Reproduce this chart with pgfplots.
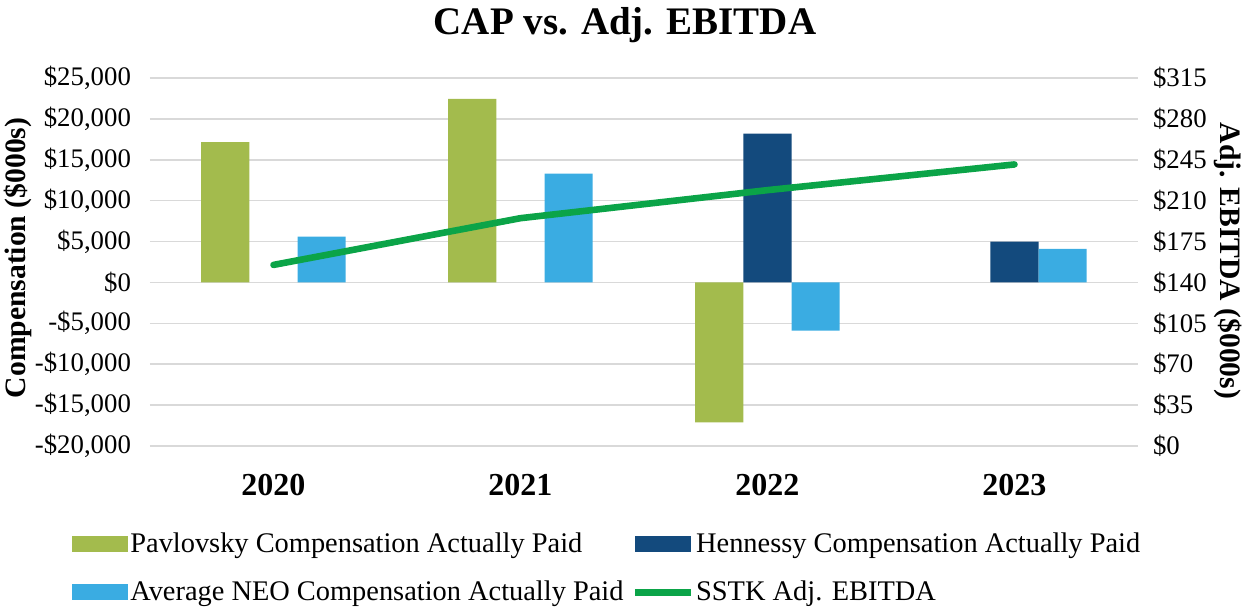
\documentclass[border=0pt]{standalone}
\usepackage{fontspec}
\setmainfont{Liberation Serif}
\usepackage{pgfplots}
\pgfplotsset{compat=1.18}
\definecolor{pavc}{HTML}{A3BB4D}
\definecolor{henc}{HTML}{134A7D}
\definecolor{neoc}{HTML}{3AACE2}
\definecolor{ebitc}{HTML}{0BA448}
\definecolor{gridc}{HTML}{D9D9D9}
\pgfplotsset{
  sqlegend/.style={legend image code/.code={\fill[##1] (0pt,-4pt) rectangle (28pt,4pt);}},
  lnlegend/.style={legend image code/.code={\draw[##1] (0pt,0pt) -- (28pt,0pt);}},
  common/.style={
    scale only axis, width=494pt, height=184pt,
    at={(75pt,81pt)}, anchor=south west,
    xmin=-0.5, xmax=3.5,
    scaled y ticks=false,
    axis line style={draw=none}, major tick length=0pt,
    yticklabel style={font=\fontsize{13.4}{16}\selectfont},
    ylabel style={font=\bfseries\fontsize{14.8}{17}\selectfont, anchor=center},
  },
}
\begin{document}
\begin{tikzpicture}
\useasboundingbox (0,0) rectangle (625pt,304pt);
\begin{axis}[common,
  ymin=-20000, ymax=25000,
  xtick={0,1,2,3}, xticklabels={2020,2021,2022,2023},
  xticklabel style={font=\bfseries\fontsize{16}{19}\selectfont, yshift=-10.5pt},
  ytick={-20000,-15000,...,25000},
  yticklabels={{-\$20,000},{-\$15,000},{-\$10,000},{-\$5,000},{\$0},{\$5,000},{\$10,000},{\$15,000},{\$20,000},{\$25,000}},
  yticklabel style={xshift=-6pt},
  ymajorgrids, major grid style={draw=gridc, line width=0.75pt},
  title={CAP vs. Adj. EBITDA},
  title style={at={(axis description cs:0.4808,1.111)}, anchor=center, font=\bfseries\fontsize{19.5}{22}\selectfont},
  ylabel={Compensation (\$000s)},
  ylabel style={at={(axis description cs:-0.1336,0.511)}},
  legend columns=2,
  legend cell align=left,
  legend style={draw=none, fill=none, inner sep=0pt,
    at={(axis description cs:-0.079,-0.2336)}, anchor=north west,
    font=\fontsize{14.2}{16}\selectfont, row sep=13pt,
    nodes={inner xsep=1pt, inner ysep=0pt},
    /tikz/every even column/.append style={column sep=3pt}},
]
\addplot[ybar, bar width=0.195, bar shift=-0.195, fill=pavc, draw=none, sqlegend]
  coordinates {(0,17150) (1,22450) (2,-17100)};
\addlegendentry{Pavlovsky Compensation Actually Paid}
\addplot[ybar, bar width=0.195, bar shift=0, fill=henc, draw=none, sqlegend]
  coordinates {(2,18200) (3,5000)};
\addlegendentry{Hennessy Compensation Actually Paid}
\addplot[ybar, bar width=0.195, bar shift=0.195, fill=neoc, draw=none, sqlegend]
  coordinates {(0,5600) (1,13300) (2,-5900) (3,4100)};
\addlegendentry{Average NEO Compensation Actually Paid}
\addlegendimage{color=ebitc, line width=3.3pt, lnlegend}
\addlegendentry{SSTK Adj. EBITDA}
\end{axis}
\begin{axis}[common,
  ymin=0, ymax=315,
  axis y line*=right, axis x line=none,
  ytick={0,35,...,315},
  yticklabels={{\$0},{\$35},{\$70},{\$105},{\$140},{\$175},{\$210},{\$245},{\$280},{\$315}},
  yticklabel style={xshift=4pt},
  ylabel={Adj. EBITDA (\$000s)},
  ylabel style={at={(axis description cs:1.091,0.503)}, rotate=180},
]
\addplot[color=ebitc, line width=3.3pt, line cap=round, line join=round]
  coordinates {(0,155) (1,195) (2,219) (3,241)};
\end{axis}
\end{tikzpicture}
\end{document}
